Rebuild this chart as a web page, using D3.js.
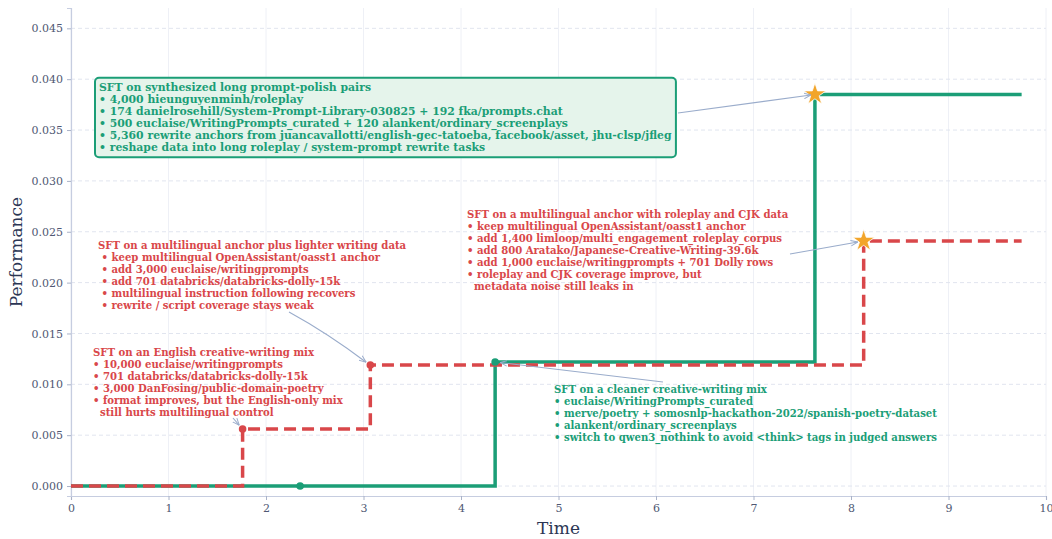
<!DOCTYPE html>
<html><head><meta charset="utf-8">
<script src="https://cdn.jsdelivr.net/npm/d3@7"></script>
<style>
html,body{margin:0;padding:0;background:#fff;}
svg{display:block;font-family:"DejaVu Serif",serif;}
</style></head>
<body><svg id="c" width="1052" height="539"></svg>
<script>
// ---- data ----
const greenTimes  = [0, 2.35, 4.35, 7.63, 9.75];
const greenValues = [0, 0, 0.0122, 0.0385, 0.0385];
const greenDots   = [[2.35, 0], [4.35, 0.0122]];
const greenStar   = [7.63, 0.0385];

const redTimes  = [0, 1.76, 3.07, 8.13, 9.75];
const redValues = [0, 0.0056, 0.0119, 0.0241, 0.0241];
const redDots   = [[1.76, 0.0056], [3.07, 0.0119]];
const redStar   = [8.13, 0.0241];

const xTicks = [0,1,2,3,4,5,6,7,8,9,10];
const yTicks = [0,0.005,0.01,0.015,0.02,0.025,0.03,0.035,0.04,0.045];

const notes = [
  {color:"green", box:true, at:[7.63,0.0385], lines:[
    "SFT on synthesized long prompt-polish pairs",
    "• 4,000 hieunguyenminh/roleplay",
    "• 174 danielrosehill/System-Prompt-Library-030825 + 192 fka/prompts.chat",
    "• 500 euclaise/WritingPrompts_curated + 120 alankent/ordinary_screenplays",
    "• 5,360 rewrite anchors from juancavallotti/english-gec-tatoeba, facebook/asset, jhu-clsp/jfleg",
    "• reshape data into long roleplay / system-prompt rewrite tasks"]},
  {color:"red", at:[3.07,0.0119], lines:[
    "SFT on a multilingual anchor plus lighter writing data",
    " • keep multilingual OpenAssistant/oasst1 anchor",
    " • add 3,000 euclaise/writingprompts",
    " • add 701 databricks/databricks-dolly-15k",
    " • multilingual instruction following recovers",
    " • rewrite / script coverage stays weak"]},
  {color:"red", at:[1.76,0.0056], lines:[
    "SFT on an English creative-writing mix",
    "• 10,000 euclaise/writingprompts",
    "• 701 databricks/databricks-dolly-15k",
    "• 3,000 DanFosing/public-domain-poetry",
    "• format improves, but the English-only mix",
    "  still hurts multilingual control"]},
  {color:"red", at:[8.13,0.0241], lines:[
    "SFT on a multilingual anchor with roleplay and CJK data",
    "• keep multilingual OpenAssistant/oasst1 anchor",
    "• add 1,400 limloop/multi_engagement_roleplay_corpus",
    "• add 800 Aratako/Japanese-Creative-Writing-39.6k",
    "• add 1,000 euclaise/writingprompts + 701 Dolly rows",
    "• roleplay and CJK coverage improve, but",
    "  metadata noise still leaks in"]},
  {color:"green", at:[4.35,0.0122], lines:[
    "SFT on a cleaner creative-writing mix",
    "• euclaise/WritingPrompts_curated",
    "• merve/poetry + somosnlp-hackathon-2022/spanish-poetry-dataset",
    "• alankent/ordinary_screenplays",
    "• switch to qwen3_nothink to avoid <think> tags in judged answers"]}
];
// layout (pixel) positions for the annotation texts and arrow starts
const noteLayout = [
  {x:99, y:87, fs:10.85, arrowFrom:[678,113], arrowGap:4},
  {x:98, y:245, fs:10.1, arrowFrom:[289,312], arrowGap:5},
  {x:93, y:352, fs:10.1, arrowFrom:[233,418], arrowGap:5},
  {x:467, y:214, fs:10.1, arrowFrom:[790,254], arrowGap:6},
  {x:554, y:389, fs:10.1, arrowFrom:[663,382], arrowGap:5}
];

const COL = {green:"#1b9e77", red:"#d9474a"};
const TEXTCOL = {green:"#1b9e77", red:"#d9474a"};

const svg = d3.select("#c");
const M = {l:71, r:1046, t:8, b:496};
const x = d3.scaleLinear().domain([0,10]).range([M.l, M.r]);
const y = d3.scaleLinear().domain([-0.00098, 0.047]).range([M.b, M.t]);

// grid
svg.append("g").selectAll("line").data(xTicks).join("line")
  .attr("x1",d=>x(d)).attr("x2",d=>x(d)).attr("y1",M.t).attr("y2",M.b)
  .attr("stroke","#eef0f6").attr("stroke-width",1);
svg.append("g").selectAll("line").data(yTicks).join("line")
  .attr("x1",M.l).attr("x2",M.r).attr("y1",d=>y(d)).attr("y2",d=>y(d))
  .attr("stroke","#e1e5ef").attr("stroke-width",1).attr("stroke-dasharray","4,3");

// axes
const xa = svg.append("g").attr("transform",`translate(0,${M.b})`)
  .call(d3.axisBottom(x).tickValues(xTicks).tickFormat(d3.format("d")).tickSize(4).tickPadding(4));
const ya = svg.append("g").attr("transform",`translate(${M.l},0)`)
  .call(d3.axisLeft(y).tickValues(yTicks).tickFormat(d3.format(".3f")).tickSize(4).tickPadding(4));
[xa,ya].forEach(a=>{
  a.select(".domain").attr("stroke","#c6cde0").attr("stroke-width",1.2);
  a.selectAll(".tick line").attr("stroke","#a9b2c8");
  a.selectAll(".tick text").attr("fill","#4f5873").attr("font-size",11).attr("font-family","DejaVu Serif");
});

svg.append("text").attr("x",(M.l+M.r)/2).attr("y",534).attr("text-anchor","middle")
  .attr("font-size",17).attr("fill","#2b3654").text("Time");
svg.append("text").attr("transform",`translate(22,${(M.t+M.b)/2}) rotate(-90)`).attr("text-anchor","middle")
  .attr("font-size",17).attr("fill","#2b3654").text("Performance");

// lines
const line = d3.line().x(d=>x(d[0])).y(d=>y(d[1])).curve(d3.curveStepAfter);
svg.append("path").datum(greenTimes.map((t,i)=>[t,greenValues[i]]))
  .attr("d",line).attr("fill","none").attr("stroke",COL.green).attr("stroke-width",3.5);
svg.append("path").datum(redTimes.map((t,i)=>[t,redValues[i]]))
  .attr("d",line).attr("fill","none").attr("stroke",COL.red).attr("stroke-width",3.5)
  .attr("stroke-dasharray","12,6");

svg.append("g").selectAll("circle").data(greenDots).join("circle")
  .attr("cx",d=>x(d[0])).attr("cy",d=>y(d[1])).attr("r",3.8).attr("fill",COL.green);
svg.append("g").selectAll("circle").data(redDots).join("circle")
  .attr("cx",d=>x(d[0])).attr("cy",d=>y(d[1])).attr("r",3.8).attr("fill",COL.red);

const star = d3.symbol().type(d3.symbolStar).size(150);
[greenStar, redStar].forEach(s=>{
  svg.append("path").attr("d",star).attr("transform",`translate(${x(s[0])},${y(s[1])})`)
    .attr("fill","#f2a52b").attr("stroke","#fff").attr("stroke-width",0.8);
});

// arrowhead marker
svg.append("defs").append("marker").attr("id","ah").attr("viewBox","0 0 10 10")
  .attr("refX",10).attr("refY",5).attr("markerWidth",7).attr("markerHeight",7)
  .attr("orient","auto-start-reverse").attr("markerUnits","userSpaceOnUse")
  .append("path").attr("d","M0,1 L10,5 L0,9").attr("fill","none").attr("stroke","#9aaccb").attr("stroke-width",1.4);

// annotations
notes.forEach((n,i)=>{
  const L = noteLayout[i];
  const g = svg.append("g");
  const tx = g.append("text").attr("font-size",L.fs).attr("font-weight","bold")
    .attr("fill",TEXTCOL[n.color]).attr("xml:space","preserve").style("white-space","pre");
  n.lines.forEach((s,j)=>{
    tx.append("tspan").attr("x",L.x).attr("y",L.y + j*12.1).attr("dy","0.35em").text(s);
  });
  if(n.box){
    const bb = tx.node().getBBox();
    g.insert("rect","text").attr("x",bb.x-4).attr("y",bb.y-3).attr("width",bb.width+8).attr("height",bb.height+6)
      .attr("rx",4).attr("fill","#e5f4eb").attr("stroke",COL.green).attr("stroke-width",2);
  }
  const tx2 = x(n.at[0]), ty2 = y(n.at[1]);
  const [fx,fy] = L.arrowFrom;
  const dx = tx2-fx, dy = ty2-fy, len = Math.hypot(dx,dy);
  const ex = tx2 - dx/len*L.arrowGap, ey = ty2 - dy/len*L.arrowGap;
  svg.append("path").attr("d",`M${fx},${fy} Q${(fx+ex)/2},${(fy+ey)/2 - (i===1?4:0)} ${ex},${ey}`)
    .attr("fill","none").attr("stroke","#9aaccb").attr("stroke-width",1.1).attr("marker-end","url(#ah)");
});
</script></body></html>
